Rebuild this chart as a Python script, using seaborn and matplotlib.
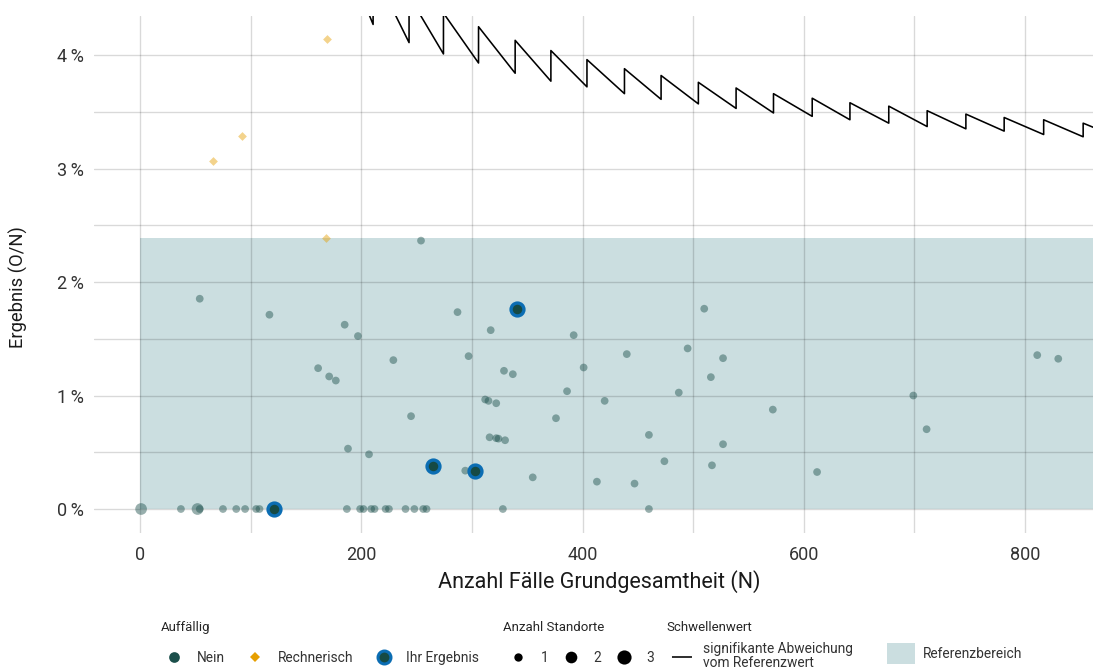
import matplotlib
matplotlib.use("Agg")
import matplotlib.pyplot as plt
import numpy as np
import pandas as pd
import seaborn as sns
from matplotlib.lines import Line2D
from matplotlib.patches import Patch
from matplotlib.ticker import FuncFormatter, MultipleLocator

# ---------------------------------------------------------------------------
# Daten
# ---------------------------------------------------------------------------
# Standorte ohne Auffälligkeit: Fallzahl N, Ergebnis O/N in %, Anzahl Standorte
nein_n = [1, 37, 52, 54, 75, 87, 95, 105, 108, 187, 199, 202, 209, 212, 222,
          225, 240, 248, 256, 259, 328, 460,
          254, 54, 117, 185, 197, 287, 229, 161, 171, 177, 245, 188, 207,
          317, 392, 297, 329, 337, 401, 440, 495, 510, 527, 516, 487, 386,
          420, 312, 315, 322, 376, 572, 316, 322, 324, 330, 460, 527, 474,
          517, 294, 355, 413, 447, 612, 699, 711, 811, 830]
nein_pct = [0, 0, 0, 0, 0, 0, 0, 0, 0, 0, 0, 0, 0, 0, 0,
            0, 0, 0, 0, 0, 0, 0,
            2.365, 1.853, 1.712, 1.624, 1.524, 1.735, 1.312, 1.241, 1.168,
            1.132, 0.818, 0.532, 0.482,
            1.576, 1.532, 1.347, 1.218, 1.188, 1.247, 1.365, 1.415, 1.765,
            1.329, 1.162, 1.026, 1.038, 0.953, 0.965, 0.953, 0.932, 0.800,
            0.876, 0.632, 0.624, 0.620, 0.606, 0.653, 0.571, 0.421, 0.385,
            0.338, 0.279, 0.241, 0.224, 0.326, 1.000, 0.703, 1.356, 1.324]
nein_standorte = [2, 1, 2, 1, 1, 1, 1, 1, 1, 1, 1, 1, 1, 1, 1,
                  1, 1, 1, 1, 1, 1, 1] + [1] * 49

# Eigene Standorte
ihr_n = [121, 265, 303, 341]
ihr_pct = [0.0, 0.379, 0.332, 1.759]

# Rechnerisch auffällige Standorte
rechnerisch_n = [66, 92, 168, 169]
rechnerisch_pct = [3.07, 3.29, 2.39, 4.14]

# Referenzbereich (0 bis Obergrenze, in %)
referenz_obergrenze = 2.39

# Schwellenwert für signifikante Abweichung vom Referenzwert
schwelle_n = [178.6, 210.7, 210.7, 243.2, 243.2, 274.3, 274.3, 306.0, 306.0,
              339.1, 339.1, 371.4, 371.4, 404.0, 404.0, 437.9, 437.9, 471.0,
              471.0, 504.7, 504.7, 538.8, 538.8, 572.6, 572.6, 607.6, 607.6,
              641.7, 641.7, 676.8, 676.8, 711.5, 711.5, 746.5, 746.5, 781.1,
              781.1, 816.8, 816.8, 852.5, 852.5, 870.0]
schwelle_pct = [5.04, 4.27, 4.75, 4.11, 4.52, 4.01, 4.37, 3.93, 4.25,
                3.84, 4.13, 3.77, 4.04, 3.72, 3.96, 3.66, 3.88, 3.61,
                3.82, 3.57, 3.76, 3.53, 3.71, 3.49, 3.66, 3.46, 3.62,
                3.43, 3.58, 3.40, 3.55, 3.37, 3.51, 3.35, 3.48, 3.33,
                3.45, 3.30, 3.43, 3.28, 3.40, 3.33]

x_ticks = [0, 200, 400, 600, 800]
y_ticks = [0, 1, 2, 3, 4]

# ---------------------------------------------------------------------------
# Farben und Stil
# ---------------------------------------------------------------------------
NEIN = "#1b4f4b"
IHR_FILL = "#164a44"
IHR_EDGE = "#0b6db3"
RECHN = "#e69f00"
BAND = "#cbdee0"
TEXT = "#333333"

sns.set_theme(style="white")
plt.rcParams["font.family"] = ["Roboto", "DejaVu Sans"]

W_PX, H_PX = 1093, 671
fig = plt.figure(figsize=(W_PX / 100, H_PX / 100), dpi=100)
left, right = 94.3 / W_PX, 1.0
bottom, top = 1 - 532.5 / H_PX, 1 - 15.7 / H_PX
ax = fig.add_axes([left, bottom, right - left, top - bottom])
ax_w_px = (right - left) * W_PX
ax_h_px = (top - bottom) * H_PX

# Referenzbereich
ax.fill_between([0, 2000], 0, referenz_obergrenze, color=BAND, lw=0, zorder=1)

# Standorte
df_nein = pd.DataFrame({"N": nein_n, "Ergebnis": nein_pct,
                        "Standorte": nein_standorte})
sns.scatterplot(data=df_nein, x="N", y="Ergebnis", size="Standorte",
                sizes={1: 31, 2: 71}, color=NEIN, alpha=0.45, linewidth=0,
                legend=False, ax=ax, zorder=3)

df_rechn = pd.DataFrame({"N": rechnerisch_n, "Ergebnis": rechnerisch_pct})
sns.scatterplot(data=df_rechn, x="N", y="Ergebnis", marker="D", s=20,
                color=RECHN, alpha=0.45, linewidth=0, legend=False, ax=ax,
                zorder=3)

df_ihr = pd.DataFrame({"N": ihr_n, "Ergebnis": ihr_pct})
sns.scatterplot(data=df_ihr, x="N", y="Ergebnis", s=86, color=IHR_FILL,
                edgecolor=IHR_EDGE, linewidth=2.4, legend=False, ax=ax,
                zorder=4)

# Schwellenwert-Linie
df_schwelle = pd.DataFrame({"N": schwelle_n, "Ergebnis": schwelle_pct})
sns.lineplot(data=df_schwelle, x="N", y="Ergebnis", sort=False,
             estimator=None, color="black", linewidth=1.15, ax=ax, zorder=5)

# Achsen
ax.set_xlim(-41.3, 861.4)
ax.set_ylim(-0.207, 4.347)
ax.set_xticks(x_ticks)
ax.set_yticks(y_ticks)
ax.xaxis.set_minor_locator(MultipleLocator(100))
ax.yaxis.set_minor_locator(MultipleLocator(0.5))
ax.yaxis.set_major_formatter(FuncFormatter(lambda v, _: f"{v:.0f}\u2009%"))
ax.set_axisbelow("line")
ax.grid(which="both", color="black", alpha=0.15, linewidth=1.0)
for s in ax.spines.values():
    s.set_visible(False)
ax.tick_params(which="both", length=0, labelsize=13, labelcolor=TEXT)
ax.tick_params(axis="x", pad=10)
ax.tick_params(axis="y", pad=7.5)
ax.set_xlabel("Anzahl Fälle Grundgesamtheit (N)", fontsize=15.5,
              color="#1a1a1a", va="center")
ax.set_ylabel("Ergebnis (O/N)", fontsize=13.2, color="#1a1a1a", va="center")
ax.xaxis.set_label_coords((599.5 - 94.3) / ax_w_px, (532.5 - 582) / ax_h_px)
ax.yaxis.set_label_coords((18 - 94.3) / ax_w_px, (532.5 - 287) / ax_h_px)

# ---------------------------------------------------------------------------
# Legenden
# ---------------------------------------------------------------------------
FS = 9.9
FS_PX = FS / 72 * 100
leg_kw = dict(loc="upper left", frameon=False, borderpad=0, borderaxespad=0,
              fontsize=FS, title_fontsize=9.5, alignment="left",
              labelcolor=TEXT)
title_top = 1 - 621 / H_PX

h_auff = [
    Line2D([], [], ls="", marker="o", markersize=7.7, markerfacecolor=NEIN,
           markeredgewidth=0),
    Line2D([], [], ls="", marker="D", markersize=5, markerfacecolor=RECHN,
           markeredgewidth=0),
    Line2D([], [], ls="", marker="o", markersize=9.3, markerfacecolor=IHR_FILL,
           markeredgecolor=IHR_EDGE, markeredgewidth=2.2),
]
fig.legend(h_auff, ["Nein", "Rechnerisch", "Ihr Ergebnis"],
           title="Auffällig", ncol=3, bbox_to_anchor=(161 / W_PX, title_top),
           handlelength=26 / FS_PX, handletextpad=10 / FS_PX,
           columnspacing=17 / FS_PX, labelspacing=1.25, **leg_kw)

h_sta = [Line2D([], [], ls="", marker="o", markersize=ms, markerfacecolor="black",
                markeredgewidth=0) for ms in (6.0, 8.4, 10.2)]
fig.legend(h_sta, ["1", "2", "3"], title="Anzahl Standorte", ncol=3,
           bbox_to_anchor=(503 / W_PX, title_top),
           handlelength=30 / FS_PX, handletextpad=8 / FS_PX,
           columnspacing=7 / FS_PX, labelspacing=1.25, **leg_kw)

# Linie im Legendenschlüssel erst nach kurzem Abstand beginnen lassen
lw_sw = 1.15
h_sw = [Line2D([], [], color="black", linewidth=lw_sw,
               linestyle=(14.4 / lw_sw, (14.4 / lw_sw, 4.3 / lw_sw)))]
leg3 = fig.legend(h_sw, ["signifikante Abweichung\nvom Referenzwert"],
                  title="Schwellenwert", bbox_to_anchor=(666 / W_PX, title_top),
                  handlelength=26 / FS_PX, handletextpad=11 / FS_PX,
                  labelspacing=0.6, **leg_kw)
for t in leg3.get_texts():
    t.set_linespacing(0.95)

h_ref = [Patch(facecolor=BAND, edgecolor="none")]
fig.legend(h_ref, ["Referenzbereich"], bbox_to_anchor=(887 / W_PX, 1 - 643 / H_PX),
           handlelength=28 / FS_PX, handleheight=27 / FS_PX,
           handletextpad=8 / FS_PX, **leg_kw)

fig.savefig("out.png", dpi=100)
